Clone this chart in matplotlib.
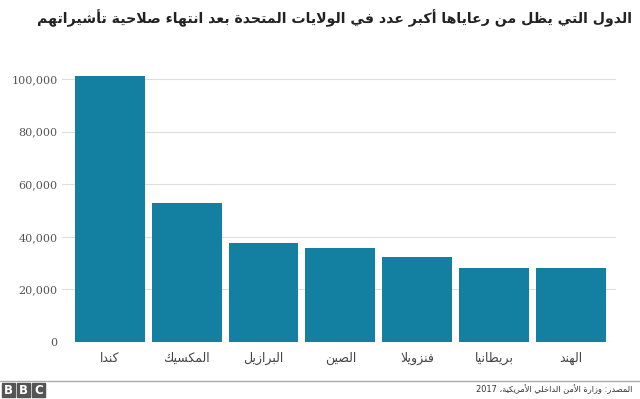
import re

import matplotlib
matplotlib.use("Agg")
import matplotlib.pyplot as plt
from matplotlib.patches import Rectangle
from matplotlib.ticker import FuncFormatter

TITLE = "الدول التي يظل من رعاياها أكبر عدد في الولايات المتحدة بعد انتهاء صلاحية تأشيراتهم"
SOURCE = "المصدر: وزارة الأمن الداخلي الأمريكية، 2017"
countries = ["كندا", "المكسيك", "البرازيل", "الصين", "فنزويلا", "بريطانيا", "الهند"]
overstays = [101000, 52900, 37600, 35700, 32300, 28100, 28100]
y_ticks = [0, 20000, 40000, 60000, 80000, 100000]

BAR_COLOR = "#1380a1"

# isolated presentation form + joining type (D = dual, R = right only, U = none)
FORMS = {
    "ء": (0xFE80, "U"), "آ": (0xFE81, "R"), "أ": (0xFE83, "R"), "إ": (0xFE87, "R"),
    "ا": (0xFE8D, "R"), "ب": (0xFE8F, "D"), "ة": (0xFE93, "R"), "ت": (0xFE95, "D"),
    "ث": (0xFE99, "D"), "ج": (0xFE9D, "D"), "ح": (0xFEA1, "D"), "خ": (0xFEA5, "D"),
    "د": (0xFEA9, "R"), "ذ": (0xFEAB, "R"), "ر": (0xFEAD, "R"), "ز": (0xFEAF, "R"),
    "س": (0xFEB1, "D"), "ش": (0xFEB5, "D"), "ص": (0xFEB9, "D"), "ض": (0xFEBD, "D"),
    "ط": (0xFEC1, "D"), "ظ": (0xFEC5, "D"), "ع": (0xFEC9, "D"), "غ": (0xFECD, "D"),
    "ف": (0xFED1, "D"), "ق": (0xFED5, "D"), "ك": (0xFED9, "D"), "ل": (0xFEDD, "D"),
    "م": (0xFEE1, "D"), "ن": (0xFEE5, "D"), "ه": (0xFEE9, "D"), "و": (0xFEED, "R"),
    "ى": (0xFEEF, "R"), "ي": (0xFEF1, "D"),
}
LAM_ALEF = {"آ": 0xFEF5, "أ": 0xFEF7, "إ": 0xFEF9, "ا": 0xFEFB}


def _jtype(u):
    if isinstance(u, tuple):
        return "R"
    return FORMS.get(u, (0, None))[1]


def ar(text):
    """Poor man's Arabic shaping + RTL reordering for matplotlib."""
    units = []
    i = 0
    while i < len(text):
        c = text[i]
        if c == "ل" and i + 1 < len(text) and text[i + 1] in LAM_ALEF:
            units.append(("LA", text[i + 1]))
            i += 2
        else:
            units.append(c)
            i += 1
    out = []
    for k, u in enumerate(units):
        t = _jtype(u)
        prev = units[k - 1] if k > 0 else None
        nxt = units[k + 1] if k + 1 < len(units) else None
        jp = t in ("D", "R") and prev is not None and _jtype(prev) == "D"
        jn = t == "D" and nxt is not None and _jtype(nxt) in ("D", "R")
        if isinstance(u, tuple):
            out.append(chr(LAM_ALEF[u[1]] + (1 if jp else 0)))
        elif t in (None, "U"):
            out.append(u)
        elif t == "R":
            out.append(chr(FORMS[u][0] + (1 if jp else 0)))
        else:
            off = 3 if (jp and jn) else 1 if jp else 2 if jn else 0
            out.append(chr(FORMS[u][0] + off))
    visual = "".join(out)[::-1]
    return re.sub(r"[0-9]+", lambda m: m.group(0)[::-1], visual)


def fit_width(fig, txt, width_px):
    # shrink/grow a text so it spans the same width as in the original
    fig.canvas.draw()
    w = txt.get_window_extent(fig.canvas.get_renderer()).width
    txt.set_fontsize(txt.get_fontsize() * width_px / w)


plt.rcParams["font.family"] = ["DejaVu Sans"]

fig = plt.figure(figsize=(6.4, 3.99), dpi=100)
ax = fig.add_axes([62 / 640, 57 / 399, 554 / 640, 268.3 / 399])

x = range(len(countries))
ax.bar(x, overstays, width=0.91, color=BAR_COLOR, zorder=2)

ax.set_xlim(-0.625, 6.59)
ax.set_ylim(0, 102000)
ax.set_yticks(y_ticks)
ax.yaxis.set_major_formatter(FuncFormatter(lambda v, _: f"{int(v):,}"))
ax.grid(axis="y", color="#dddddd", linewidth=0.8, zorder=0)
ax.set_xticks(list(x))
ax.set_xticklabels([ar(c) for c in countries])
ax.tick_params(axis="x", length=0, pad=7, labelsize=9, labelcolor="#444444")
ax.tick_params(axis="y", length=0, pad=3, labelsize=8, labelcolor="#555555")
for lab in ax.get_yticklabels():
    lab.set_fontfamily("DejaVu Serif")
for s in ax.spines.values():
    s.set_visible(False)

title = fig.text(632 / 640, 1 - 18 / 399, ar(TITLE), ha="right", va="center",
                 fontsize=13, fontweight="bold", color="#222222")

# footer
fig.add_artist(plt.Line2D([0, 1], [1 - 380.5 / 399] * 2, color="#aaaaaa", linewidth=1))
source = fig.text(632 / 640, 1 - 389 / 399, ar(SOURCE), ha="right", va="center",
                  fontsize=7, color="#333333")
for k, letter in enumerate("BBC"):
    x0 = (2 + 15 * k) / 640
    fig.add_artist(Rectangle((x0, 2 / 399), 13 / 640, 14 / 399,
                             transform=fig.transFigure, color="#555555"))
    fig.text(x0 + 6.5 / 640, 9 / 399, letter, ha="center", va="center",
             fontsize=8.5, fontweight="bold", color="white")

fit_width(fig, title, 596)
fit_width(fig, source, 158)

fig.savefig("out.png", dpi=100)
